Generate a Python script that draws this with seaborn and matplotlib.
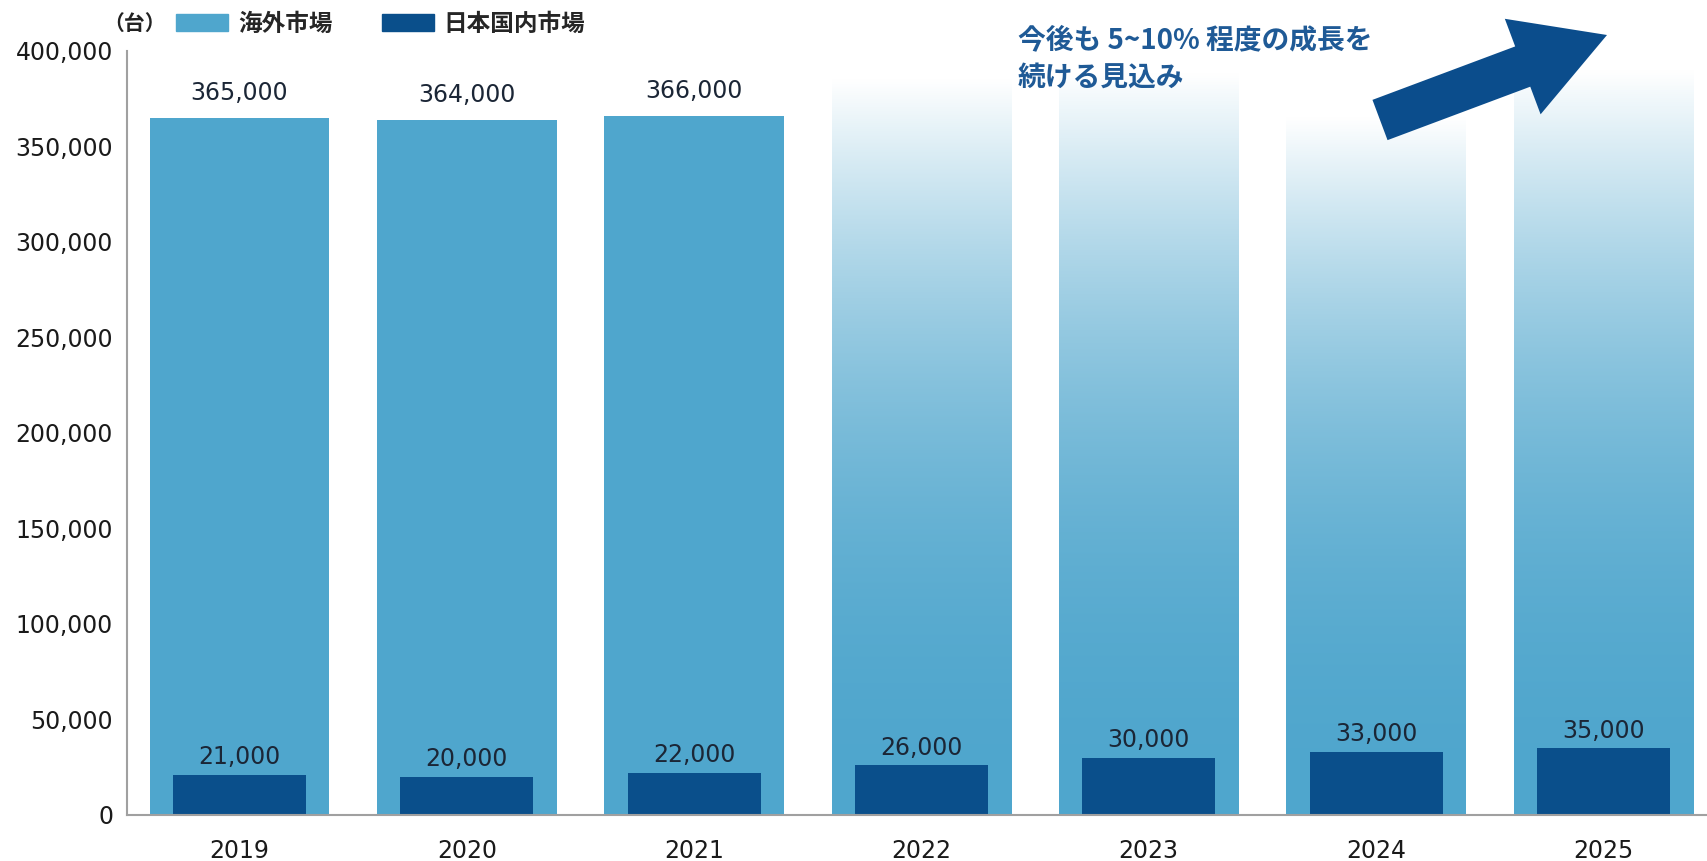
import numpy as np
import pandas as pd
import matplotlib
matplotlib.use("Agg")
import matplotlib.pyplot as plt
import seaborn as sns
from matplotlib.patches import Patch, FancyArrow
from matplotlib.transforms import IdentityTransform
from matplotlib.font_manager import FontProperties

# ---- data -------------------------------------------------------------
years = ["2019", "2020", "2021", "2022", "2023", "2024", "2025"]
overseas_actual = [365000, 364000, 366000]            # 海外市場 (labelled)
overseas_outlook = [385000, 388000, 365000, 390000]   # 海外市場 outlook (faded)
domestic = [21000, 20000, 22000, 26000, 30000, 33000, 35000]  # 日本国内市場
series_names = ["海外市場", "日本国内市場"]
unit_label = "（台）"
note_lines = ["今後も 5~10% 程度の成長を", "続ける見込み"]

# ---- style ------------------------------------------------------------
sns.set_style("white")
plt.rcParams["font.family"] = ["DejaVu Sans", "Noto Sans CJK JP"]
CJK = ["Noto Sans CJK JP", "DejaVu Sans"]

C_OVER = "#4FA6CD"
C_DOM = "#0A4F8B"
C_ARROW = "#0B4D8C"
C_AXIS = "#A0A0A0"
C_VAL = "#1B2636"
C_NOTE = "#1F5A96"

W, H = 1707, 861
fig = plt.figure(figsize=(W / 100, H / 100), dpi=100)
ax = fig.add_axes([127 / W, 1 - 815 / H, 1 - 127 / W, (815 - 51) / H])

df = pd.DataFrame({
    "year": years,
    "overseas": overseas_actual + overseas_outlook,
    "domestic": domestic,
})

# overseas bars (wide)
sns.barplot(data=df, x="year", y="overseas", color=C_OVER, width=0.79,
            saturation=1, linewidth=0, edgecolor="none", ax=ax, zorder=1)
over_bars = ax.containers[0]

# outlook years: replace the flat fill with a vertical fade to white
n_actual = len(overseas_actual)
blue = np.array(matplotlib.colors.to_rgb(C_OVER))
t = np.linspace(0, 1, 400)[:, None]          # 0 = bottom, 1 = top
w = np.clip(1 - t ** 2.2, 0, 1)
grad = (1 - w)[..., None] * np.ones(3) + w[..., None] * blue
grad = grad[::-1]                              # image rows run top -> bottom
for bar in list(over_bars)[n_actual:]:
    x0, y0 = bar.get_x(), bar.get_y()
    bw, bh = bar.get_width(), bar.get_height()
    bar.set_visible(False)
    ax.imshow(grad, extent=(x0, x0 + bw, y0, y0 + bh), aspect="auto",
              interpolation="bicubic", zorder=1.2)

# domestic bars (narrow, in front)
sns.barplot(data=df, x="year", y="domestic", color=C_DOM, width=0.585,
            saturation=1, linewidth=0, edgecolor="none", ax=ax, zorder=2)
dom_bars = ax.containers[1]

# value labels
over_labels = [f"{v:,}" for v in overseas_actual] + [""] * len(overseas_outlook)
ax.bar_label(over_bars, labels=over_labels, padding=9, fontsize=17,
             color=C_VAL, zorder=3)
ax.bar_label(dom_bars, labels=[f"{v:,}" for v in domestic], padding=4,
             fontsize=17, color=C_VAL, zorder=3)

# ---- axes -------------------------------------------------------------
ax.set_xlim(-0.495, 6.456)
ax.set_ylim(0, 400000)
ax.set_xlabel("")
ax.set_ylabel("")
ax.set_yticks(np.arange(0, 400001, 50000))
ax.yaxis.set_major_formatter(matplotlib.ticker.FuncFormatter(lambda v, p: f"{int(v):,}"))
ax.set_xticks(np.arange(0.5, 6, 1.0), minor=True)

for s in ["top", "right"]:
    ax.spines[s].set_visible(False)
for s in ["left", "bottom"]:
    ax.spines[s].set_color(C_AXIS)
    ax.spines[s].set_linewidth(1.5)

ax.tick_params(axis="y", which="major", direction="in", length=11, width=1.3,
               color=C_AXIS, labelsize=17, labelcolor="#1A1A1A", pad=10)
ax.tick_params(axis="x", which="major", length=0, labelsize=17,
               labelcolor="#1A1A1A", pad=17)
ax.tick_params(axis="x", which="minor", direction="in", length=13, width=1.2,
               color="#888888")
ax.grid(False)
ax.set_facecolor("white")

# ---- legend and unit ----------------------------------------------------
leg_font = FontProperties(family=CJK, size=17, weight="bold")
fig.legend(handles=[Patch(color=C_OVER), Patch(color=C_DOM)], labels=series_names,
           loc="center left", bbox_to_anchor=(176 / W, 1 - 24 / H), ncol=2,
           frameon=False, handlelength=2.2, handleheight=0.72,
           handletextpad=0.42, columnspacing=2.1, borderpad=0,
           borderaxespad=0, prop=leg_font)
fig.text(103 / W, 1 - 23 / H, unit_label, ha="left", va="center",
         fontsize=15, fontweight="bold", family=CJK, color="#222222")

# ---- outlook note and arrow --------------------------------------------
for i, line in enumerate(note_lines):
    fig.text(1018 / W, 1 - (40 + 38 * i) / H, line, ha="left", va="center",
             fontsize=20, fontweight="bold", family=CJK, color=C_NOTE)

arrow = FancyArrow(1380, H - 120, 227, 85, width=43, head_width=102,
                   head_length=90, length_includes_head=True,
                   transform=IdentityTransform(), color=C_ARROW, lw=0)
fig.add_artist(arrow)

fig.savefig("out.png", dpi=100)
